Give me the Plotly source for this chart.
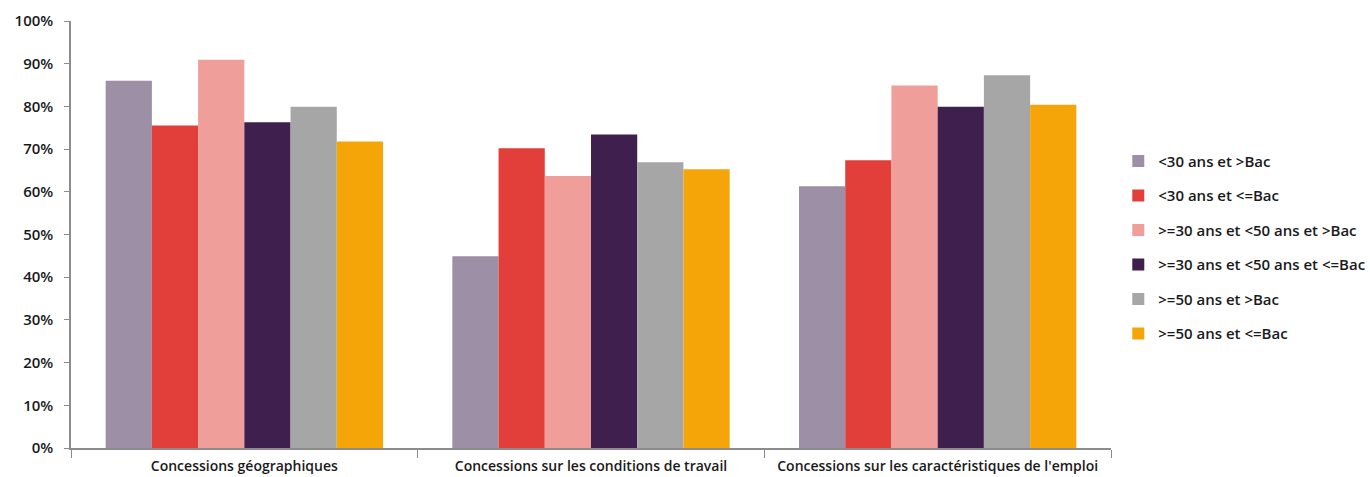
import plotly.graph_objects as go

categories = ["Concessions géographiques", "Concessions sur les conditions de travail",
              "Concessions sur les caractéristiques de l'emploi"]
series_names = ["<30 ans et >Bac", "<30 ans et <=Bac", ">=30 ans et <50 ans et >Bac",
                ">=30 ans et <50 ans et <=Bac", ">=50 ans et >Bac", ">=50 ans et <=Bac"]
s1 = [0.860, 0.449, 0.613]
s2 = [0.755, 0.702, 0.674]
s3 = [0.909, 0.637, 0.849]
s4 = [0.763, 0.734, 0.799]
s5 = [0.799, 0.669, 0.873]
s6 = [0.718, 0.653, 0.804]
colors = ["#9D8FA5", "#E23F3A", "#F09E99", "#3E1F4D", "#A6A6A6", "#F5A507"]
y_ticks = [0, 0.1, 0.2, 0.3, 0.4, 0.5, 0.6, 0.7, 0.8, 0.9, 1.0]
y_tick_labels = ["0%", "10%", "20%", "30%", "40%", "50%", "60%", "70%", "80%", "90%", "100%"]

FONT = "Open Sans"
fig = go.Figure()
for i, (name, vals) in enumerate(zip(series_names, [s1, s2, s3, s4, s5, s6])):
    fig.add_trace(go.Bar(x=categories, y=vals, name=name, legendgroup=f"g{i}",
                         marker=dict(color=colors[i], line=dict(width=0))))

fig.update_layout(
    width=1370, height=477,
    margin=dict(l=71, r=259, t=21, b=29, autoexpand=False),
    plot_bgcolor="white", paper_bgcolor="white",
    barmode="group", bargap=0.2, bargroupgap=0,
    font=dict(family=FONT, size=14, color="#1a1a1a", weight=600),
    showlegend=True,
    legend=dict(x=1.007, y=0.71, xanchor="left", yanchor="top",
                font=dict(family=FONT, size=15, weight=600),
                tracegroupgap=12, itemwidth=30, traceorder="grouped"),
)
fig.update_xaxes(showline=True, linecolor="#8c8c8c", linewidth=1.5,
                 ticks="outside", tickson="boundaries", ticklen=8, tickcolor="#8c8c8c",
                 tickfont=dict(size=14), tickangle=0, automargin=False,
                 ticklabelstandoff=4, showgrid=False)
fig.update_yaxes(range=[0, 1], tickvals=y_ticks, ticktext=y_tick_labels,
                 showline=True, linecolor="#8c8c8c", linewidth=1.5,
                 ticks="outside", ticklen=5, tickcolor="#8c8c8c", ticklabelstandoff=8,
                 automargin=False, showgrid=False, zeroline=False, tickfont=dict(size=15))
fig.write_html("out.html", config={"displayModeBar": False},
               post_script="document.body.style.margin='0';document.body.style.padding='0';")
